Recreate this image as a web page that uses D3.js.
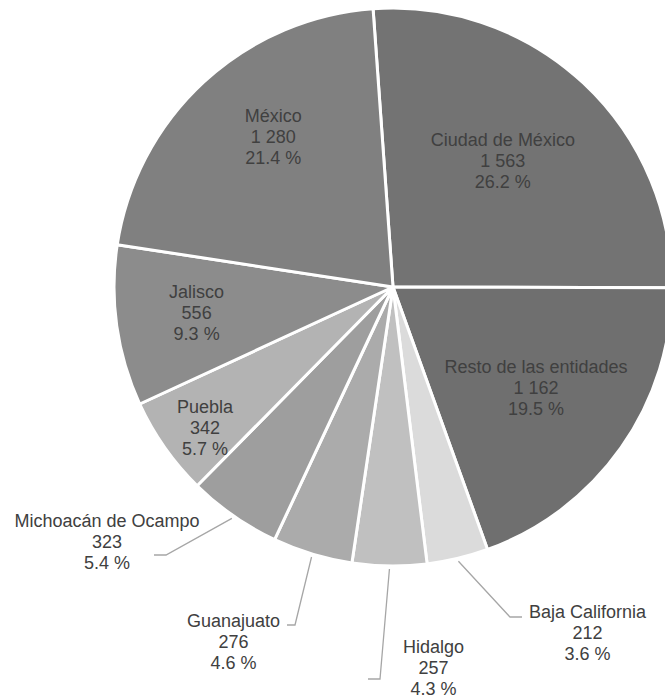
<!DOCTYPE html>
<html>
<head>
<meta charset="utf-8">
<script src="https://cdn.jsdelivr.net/npm/d3@7"></script>
<style>
  body { margin: 0; background: #fff; }
  svg { display: block; }
  text { font-family: "Liberation Sans", Arial, sans-serif; font-size: 18px; fill: #404040; }
</style>
</head>
<body>
<div id="chart"></div>
<script>
// data
var states = ["Ciudad de México", "Resto de las entidades", "Baja California", "Hidalgo",
  "Guanajuato", "Michoacán de Ocampo", "Puebla", "Jalisco", "México"];
var counts = [1563, 1162, 212, 257, 276, 323, 342, 556, 1280];
var colors = ["#737373", "#6f6f6f", "#dbdbdb", "#c0c0c0", "#ababab", "#9e9e9e", "#b3b3b3", "#8c8c8c", "#808080"];

// label layout: inside labels sit on a fraction of the radius (with a small angle nudge),
// outside labels get a leader line with an elbow (offsets from pie centre)
var inside = {
  "Ciudad de México": { rf: 0.60, nudge: -2 },
  "Resto de las entidades": { rf: 0.627, nudge: 0 },
  "Puebla": { rf: 0.84, nudge: -1.6 },
  "Jalisco": { rf: 0.71, nudge: 0.5 },
  "México": { rf: 0.69, nudge: 4.2 }
};
var outside = {
  "Michoacán de Ocampo": { elbow: [-227, 268], end: [-239, 268], text: [-286, 254] },
  "Guanajuato": { elbow: [-98, 338], end: [-106, 338], text: [-159.5, 354] },
  "Hidalgo": { elbow: [-13, 392], end: [-25, 392], text: [40.5, 380.5] },
  "Baja California": { elbow: [117, 330], end: [129, 330], text: [194.5, 345.5] }
};

var width = 665, height = 698,
    cx = 393, cy = 287, radius = 279,
    lineH = 21;

var total = d3.sum(counts);
var data = states.map(function (s, i) { return { name: s, value: counts[i], color: colors[i] }; });

var fmtNum = function (v) { return d3.format(",")(v).replace(/,/g, " "); };
var fmtPct = function (v) { return d3.format(".1f")(v / total * 100) + " %"; };

var svg = d3.select("#chart").append("svg")
    .attr("width", width).attr("height", height);
var g = svg.append("g").attr("transform", "translate(" + cx + "," + cy + ")");

var offset = -4.1 * Math.PI / 180;
var pie = d3.pie().sort(null).value(function (d) { return d.value; })
    .startAngle(offset).endAngle(offset + 2 * Math.PI);
var arc = d3.arc().innerRadius(0).outerRadius(radius);
var arcs = pie(data);

g.selectAll("path.slice").data(arcs).enter().append("path")
    .attr("class", "slice")
    .attr("d", arc)
    .attr("fill", function (d) { return d.data.color; })
    .attr("stroke", "#fff")
    .attr("stroke-width", 3)
    .attr("stroke-linejoin", "round");

function polar(a, r) { return [r * Math.sin(a), -r * Math.cos(a)]; }

function writeLabel(p, d) {
  var t = g.append("text").attr("text-anchor", "middle");
  var lines = [d.data.name, fmtNum(d.data.value), fmtPct(d.data.value)];
  lines.forEach(function (s, i) {
    t.append("tspan").attr("x", p[0]).attr("y", p[1] + (i - 1) * lineH + 6.5).text(s);
  });
}

arcs.forEach(function (d) {
  var mid = (d.startAngle + d.endAngle) / 2;
  var name = d.data.name;
  if (inside[name]) {
    var o = inside[name];
    writeLabel(polar(mid + o.nudge * Math.PI / 180, radius * o.rf), d);
  } else if (outside[name]) {
    var L = outside[name];
    var start = polar(mid, radius + 3);
    g.append("path")
      .attr("d", d3.line()([start, L.elbow, L.end]))
      .attr("fill", "none")
      .attr("stroke", "#a6a6a6")
      .attr("stroke-width", 1.3);
    writeLabel(L.text, d);
  }
});
</script>
</body>
</html>
